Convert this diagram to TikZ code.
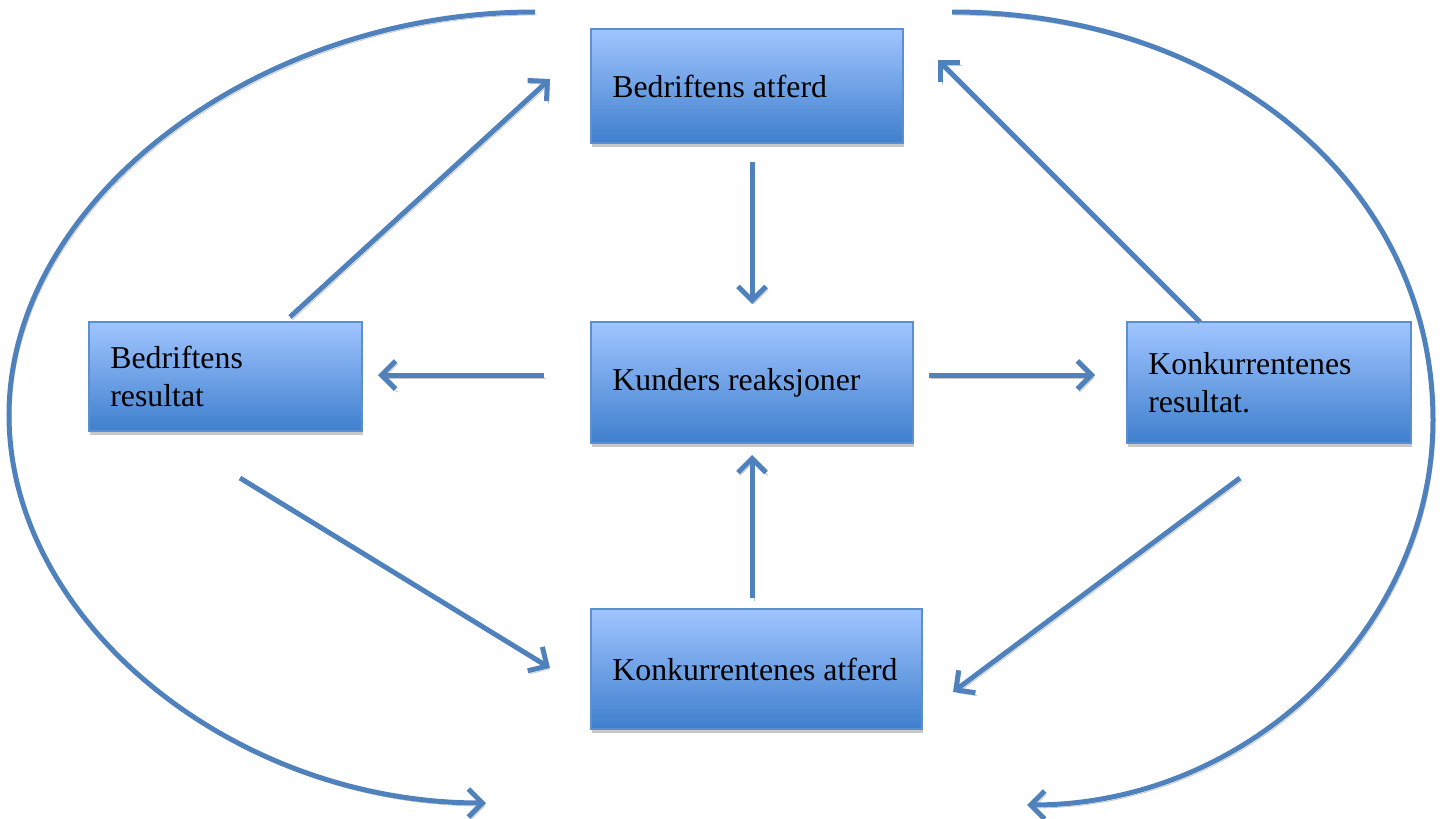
\documentclass[tikz,border=0pt]{standalone}
\usepackage{fontspec}
\setmainfont{Liberation Serif}
\usetikzlibrary{arrows.meta,shadows}
\definecolor{arrowblue}{HTML}{4F81BD}
\definecolor{boxtop}{HTML}{A0C5FF}
\definecolor{boxbot}{HTML}{3F7FCD}
\definecolor{boxedge}{HTML}{5B8FCF}
\definecolor{shadowgray}{HTML}{C8C8C8}
\begin{document}
\begin{tikzpicture}[x=0.5pt,y=-0.5pt,
  box/.style={draw=boxedge, line width=1pt, top color=boxtop, bottom color=boxbot,
    drop shadow={shadow xshift=0.6pt, shadow yshift=-2pt, fill=shadowgray, opacity=1},
    inner sep=0pt, anchor=center},
  label/.style={anchor=west, align=left, inner sep=0pt,
    font=\fontsize{15.9}{19}\selectfont},
  conn/.style={draw=arrowblue, line width=2.5pt, line cap=butt,
    -{Straight Barb[length=7pt,width=14pt]},
    preaction={draw=shadowgray, transform canvas={shift={(1pt,-1.5pt)}}}}
]
\useasboundingbox (0,0) rectangle (1442,819);

% boxes
\node[box, minimum width=156pt, minimum height=57pt] (ba) at (747,86) {};
\node[box, minimum width=161pt, minimum height=60.5pt] (kr) at (752,382.5) {};
\node[box, minimum width=136.5pt, minimum height=54.5pt] (br) at (225.5,376.5) {};
\node[box, minimum width=142pt, minimum height=60.5pt] (kres) at (1269,382.5) {};
\node[box, minimum width=165.5pt, minimum height=60pt] (ka) at (756.5,669) {};

% labels
\node[label] (tba) at ([xshift=11pt]ba.west) {Bedriftens atferd};
\node[label] (tkr) at ([xshift=11pt]kr.west) {Kunders reaksjoner};
\node[label] (tbr) at ([xshift=11pt]br.west) {Bedriftens\\resultat};
\node[label] (tkres) at ([xshift=11pt]kres.west) {Konkurrentenes\\resultat.};
\node[label] (tka) at ([xshift=11pt]ka.west) {Konkurrentenes atferd};

% connector end points
\coordinate (c1s) at (290,317);  \coordinate (c1e) at (550,79);
\coordinate (c2s) at (752,162);  \coordinate (c2e) at (752,304);
\coordinate (c3s) at (544,375);  \coordinate (c3e) at (378,375);
\coordinate (c4s) at (929,375);  \coordinate (c4e) at (1095,375);
\coordinate (c5s) at (1200,322); \coordinate (c5e) at (938,60);
\coordinate (c6s) at (752,598);  \coordinate (c6e) at (752,455);
\coordinate (c7s) at (240,478);  \coordinate (c7e) at (550,668);
\coordinate (c8s) at (1240,478); \coordinate (c8e) at (953,692);

\draw[conn] (c1s) -- (c1e);
\draw[conn] (c2s) -- (c2e);
\draw[conn] (c3s) -- (c3e);
\draw[conn] (c4s) -- (c4e);
\draw[conn] (c5s) -- (c5e);
\draw[conn] (c6s) -- (c6e);
\draw[conn] (c7s) -- (c7e);
\draw[conn] (c8s) -- (c8e);

% big arcs
\coordinate (la) at (535,12);  \coordinate (lm) at (9,415);  \coordinate (lb) at (486,803);
\coordinate (ra) at (952,12);  \coordinate (rm) at (1433,420); \coordinate (rb) at (1027,805);
\draw[conn] (la) .. controls (256,12) and (9,201) .. (lm)
                 .. controls (9,621) and (233,803) .. (lb);
\draw[conn] (ra) .. controls (1226,12) and (1433,187) .. (rm)
                 .. controls (1433,627) and (1249,805) .. (rb);
\end{tikzpicture}
\end{document}
